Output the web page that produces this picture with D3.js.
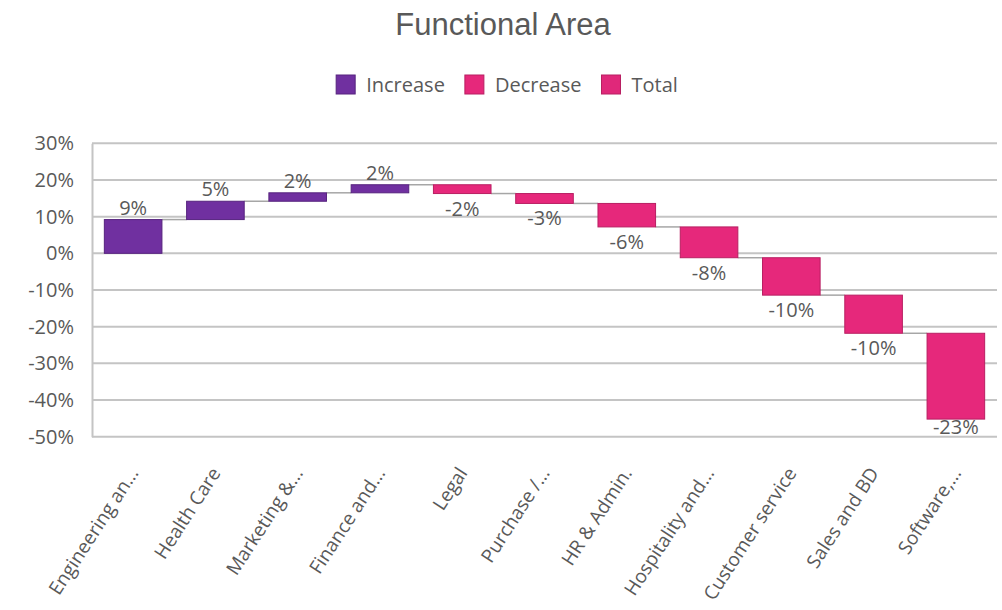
<!DOCTYPE html>
<html>
<head>
<meta charset="utf-8">
<script src="https://cdn.jsdelivr.net/npm/d3@7/dist/d3.min.js"></script>
<style>
  body { margin: 0; background: #fff; }
  text { font-family: "Open Sans", sans-serif; fill: #595959; }
</style>
</head>
<body>
<div id="chart"></div>
<script>
// categories and their change (percent points)
const categories = ['Engineering an...', 'Health Care', 'Marketing &...', 'Finance and...', 'Legal',
  'Purchase /...', 'HR & Admin.', 'Hospitality and...', 'Customer service', 'Sales and BD', 'Software,...'];
const changes = [9.2, 5.0, 2.3, 2.2, -2.4, -2.7, -6.4, -8.4, -10.2, -10.4, -23.4];
const labels = ['9%', '5%', '2%', '2%', '-2%', '-3%', '-6%', '-8%', '-10%', '-10%', '-23%'];
const yTicks = [30, 20, 10, 0, -10, -20, -30, -40, -50];
const legendItems = ['Increase', 'Decrease', 'Total'];

const width = 1002, height = 610;
const margin = {top: 143.3, right: 5, bottom: 173.3, left: 92};
const colors = {Increase: '#7030a0', Decrease: '#e6287b', Total: '#e0287a'};
const strokes = {Increase: '#56237e', Decrease: '#b81f62'};

const svg = d3.select('#chart').append('svg')
    .attr('width', width)
    .attr('height', height);

// running totals
let run = 0;
const bars = changes.map((v, i) => {
  const start = run;
  run += v;
  return {name: categories[i], start: start, end: run, value: v, label: labels[i]};
});

const x = d3.scaleBand()
    .domain(categories)
    .range([margin.left, width - margin.right])
    .paddingInner(0.3)
    .paddingOuter(0.15);

const y = d3.scaleLinear()
    .domain([-50, 30])
    .range([height - margin.bottom, margin.top]);

// title
svg.append('text')
    .attr('x', 503)
    .attr('y', 35)
    .attr('text-anchor', 'middle')
    .style('font-family', '"Liberation Sans", Arial, sans-serif')
    .style('font-size', '31px')
    .text('Functional Area');

// legend
const legend = svg.append('g');
let lx = 0;
legendItems.forEach(k => {
  const g = legend.append('g').attr('transform', `translate(${lx},0)`);
  g.append('rect')
      .attr('width', 19).attr('height', 19)
      .attr('y', 75)
      .attr('fill', colors[k])
      .attr('stroke', k === 'Increase' ? strokes.Increase : strokes.Decrease);
  const t = g.append('text')
      .attr('x', 30).attr('y', 92)
      .style('font-size', '20px')
      .text(k);
  lx += 30 + t.node().getComputedTextLength() + 20;
});
legend.attr('transform', `translate(${507 - (lx - 20) / 2},0)`);

// gridlines
svg.append('g')
    .selectAll('line')
    .data(yTicks)
    .join('line')
    .attr('x1', margin.left)
    .attr('x2', width - margin.right)
    .attr('y1', d => y(d))
    .attr('y2', d => y(d))
    .attr('stroke', '#c4c4c4')
    .attr('stroke-width', 2);

// y axis
const yAxis = svg.append('g')
    .attr('transform', `translate(${margin.left},0)`)
    .call(d3.axisLeft(y).tickValues(yTicks).tickSize(0).tickPadding(18)
        .tickFormat(d => d + '%'));
yAxis.select('.domain').attr('stroke', '#c4c4c4').attr('stroke-width', 2);
yAxis.selectAll('text')
    .style('font-size', '20px')
    .attr('fill', '#595959')
    .style('font-family', '"Open Sans", sans-serif');

// connectors
svg.append('g')
    .selectAll('line')
    .data(bars.slice(0, -1))
    .join('line')
    .attr('x1', d => x(d.name) + x.bandwidth())
    .attr('x2', (d, i) => x(categories[i + 1]))
    .attr('y1', d => y(d.end))
    .attr('y2', d => y(d.end))
    .attr('stroke', '#a6a6a6')
    .attr('stroke-width', 1.5);

// bars
svg.append('g')
    .selectAll('rect')
    .data(bars)
    .join('rect')
    .attr('x', d => x(d.name))
    .attr('width', x.bandwidth())
    .attr('y', d => y(Math.max(d.start, d.end)))
    .attr('height', d => Math.abs(y(d.start) - y(d.end)))
    .attr('fill', d => d.value >= 0 ? colors.Increase : colors.Decrease)
    .attr('stroke', d => d.value >= 0 ? strokes.Increase : strokes.Decrease)
    .attr('stroke-width', 1);

// data labels
svg.append('g')
    .selectAll('text')
    .data(bars)
    .join('text')
    .attr('x', d => x(d.name) + x.bandwidth() / 2)
    .attr('y', d => d.value >= 0
        ? y(d.end) - 5
        : Math.min(y(d.end) + 22, height - margin.bottom - 3))
    .attr('text-anchor', 'middle')
    .style('font-size', '20px')
    .text(d => d.label);

// category labels
svg.append('g')
    .selectAll('text')
    .data(categories)
    .join('text')
    .attr('text-anchor', 'end')
    .attr('transform', d => `translate(${x(d) + x.bandwidth() / 2 + 6},473) rotate(-57)`)
    .style('font-size', '19px')
    .text(d => d);
</script>
</body>
</html>
